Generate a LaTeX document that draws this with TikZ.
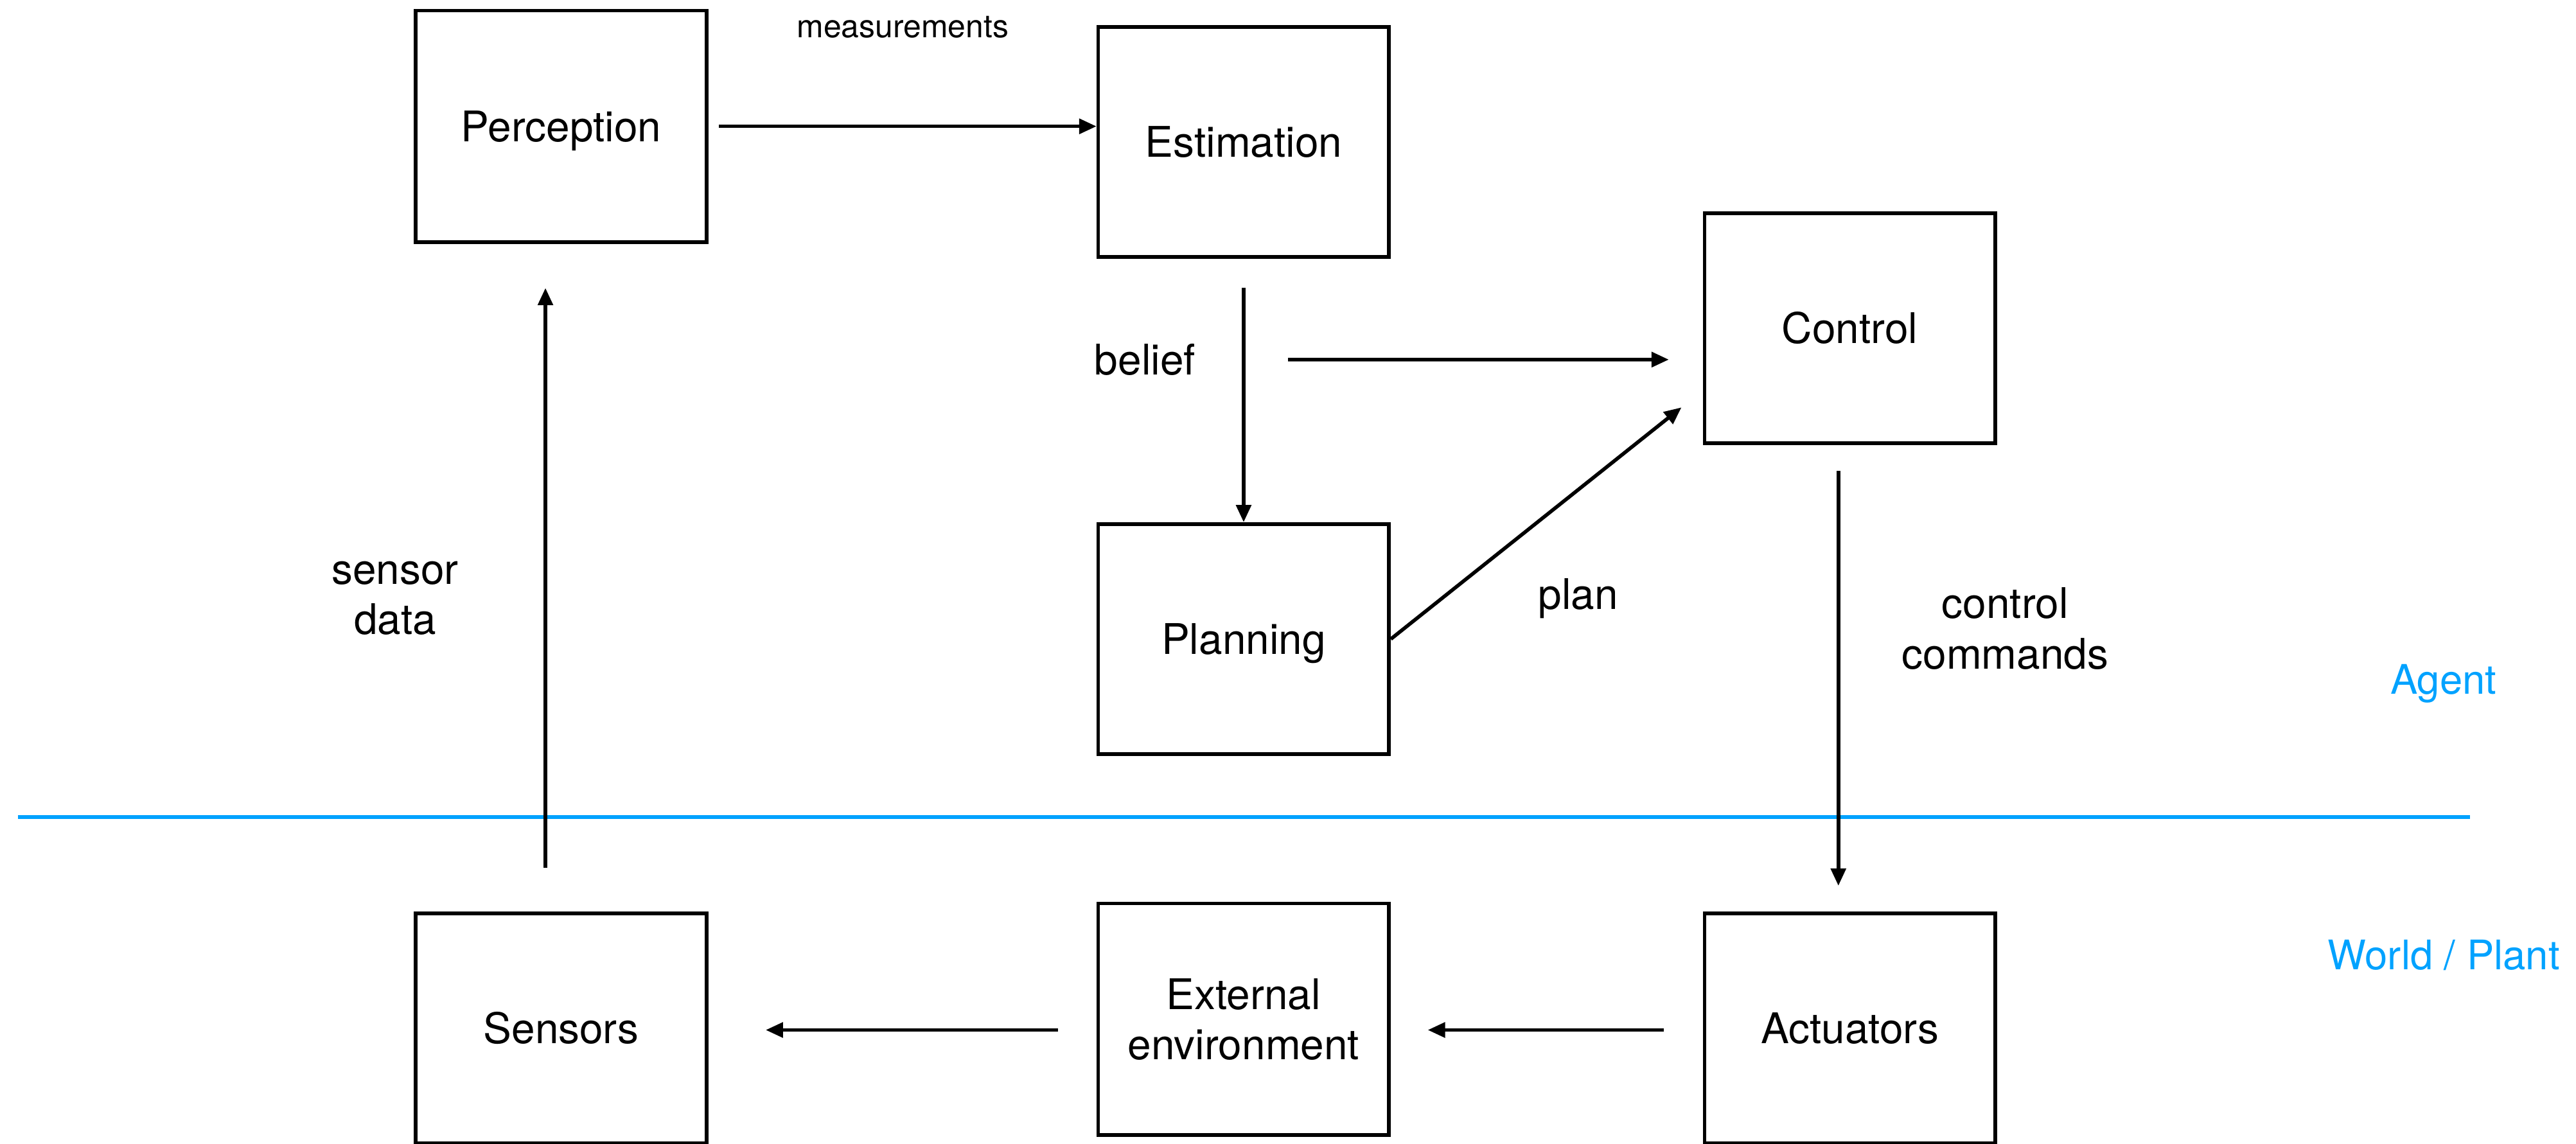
\documentclass[tikz,border=0pt]{standalone}
\usepackage{fontspec}
\setmainfont{TeX Gyre Heros}
\usetikzlibrary{arrows.meta,calc}
\definecolor{agentblue}{RGB}{0,162,255}
\begin{document}
\begin{tikzpicture}[x=1pt,y=-1pt,
  blockbox/.style={draw, line width=2.2pt, minimum width=177pt, minimum height=140pt, inner sep=0pt,
    font=\fontsize{25.7}{30.4}\selectfont},
  oneline/.style={text height=18.45pt, text depth=0pt},
  arr/.style={line width=2.2pt, -{Triangle[length=10.5pt,width=9pt]}},
  lbl/.style={inner sep=0pt, font=\fontsize{25.7}{30.6}\selectfont, align=center},
  zonelbl/.style={inner sep=0pt, anchor=base, text=agentblue, font=\fontsize{24.8}{29}\selectfont}]
\useasboundingbox (0,0) rectangle (1568,696.4);

% boxes
\node[blockbox, oneline, minimum height=140.8pt] (P) at (341.5,76.9) {Perception};
\node[blockbox, oneline] (E) at (757,86.4) {Estimation};
\node[blockbox, oneline] (C) at (1126,199.8) {Control};
\node[blockbox, oneline] (L) at (757,389) {Planning};
\node[blockbox, oneline] (S) at (341.5,626) {Sensors};
\node[blockbox, align=center, minimum height=141pt] (X) at (757,620.5) {External\\environment};
\node[blockbox, oneline] (A) at (1126,626) {Actuators};

% labels
\node[inner sep=0pt, anchor=base, font=\fontsize{19.5}{23}\selectfont] (meas) at (549.5,22.8) {measurements};
\node[lbl, anchor=base] (belief) at (697,228) {belief};
\node[lbl] (sdata) at (240.5,364.2) {sensor\\data};
\node[lbl, anchor=base] (plan) at (960.6,371) {plan};
\node[lbl, font=\fontsize{25.7}{30.8}\selectfont] (ccmd) at (1220.5,382.75) {control\\commands};
\node[zonelbl] (agent) at (1487.3,422.4) {Agent};
\node[zonelbl] (world) at (1487.5,590.2) {World / Plant};

% separator
\coordinate (sepL) at (11,497.3);
\coordinate (sepR) at (1503.3,497.3);
\draw[agentblue, line width=2.2pt] (sepL) -- (sepR);

% connectors
\draw[arr] ($(P.east)+(6.5,0)$) -- (E.west |- P.east);
\draw[arr] ($(S.north)+(-9.5,-26.8)$) -- ($(P.south)+(-9.5,26.9)$);
\draw[arr] ($(E.south)+(0,17.6)$) -- (L.north);
\coordinate (bstart) at (784,218.9);
\draw[arr] (bstart) -- ($(C.west)+(-20.6,19.1)$);
\draw[arr] (L.east) -- ($(C.south west)+(-12.9,-22.9)$);
\draw[arr] ($(C.south)+(-7,15.8)$) -- ($(A.north)+(-7,-15.7)$);
\draw[arr] ($(A.west)+(-23.5,1)$) -- ($(X.east)+(22.5,6.5)$);
\draw[arr] ($(X.west)+(-23.5,6.5)$) -- ($(S.east)+(35,1)$);
\end{tikzpicture}
\end{document}
